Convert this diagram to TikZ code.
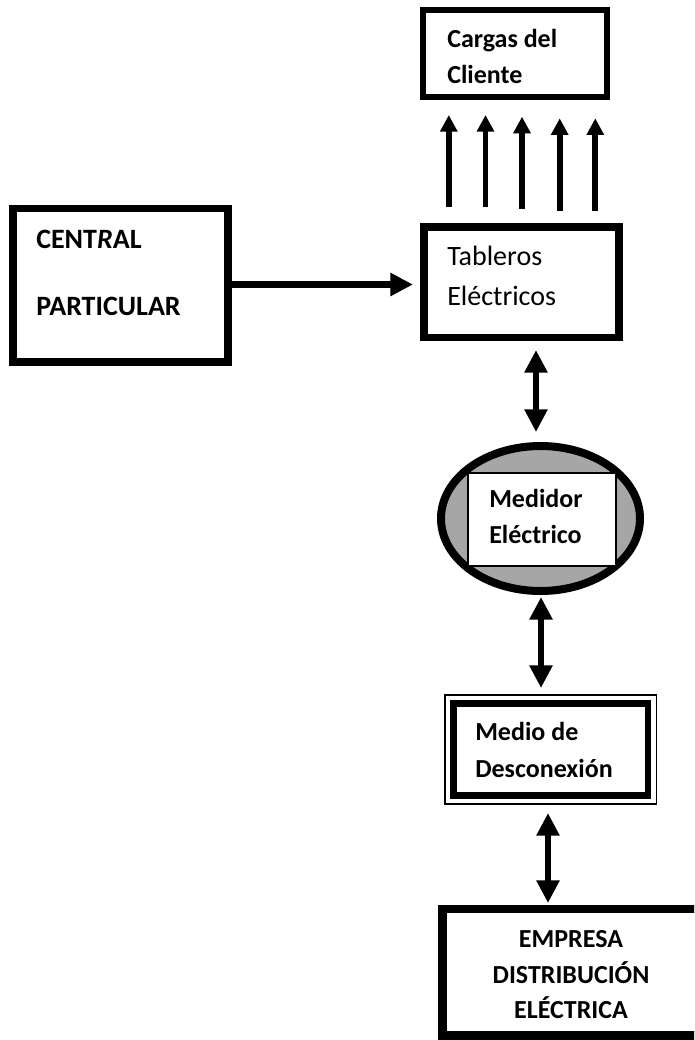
\documentclass[tikz,border=0pt]{standalone}
\usepackage{fontspec}
\setmainfont{Carlito}
\usetikzlibrary{arrows.meta,shapes.geometric}
\definecolor{medgray}{RGB}{166,166,166}
\begin{document}
\begin{tikzpicture}[x=0.75pt,y=-0.75pt,
  box/.style={draw=black,inner sep=0pt,outer sep=0pt,fill=white},
  lblb/.style={anchor=base west,inner sep=0pt,font=\bfseries\fontsize{19.5}{23}\selectfont},
  lblbig/.style={anchor=base west,inner sep=0pt,font=\bfseries\fontsize{21}{25}\selectfont},
  lblr/.style={anchor=base west,inner sep=0pt,font=\fontsize{21}{25}\selectfont},
  lblc/.style={anchor=base,inner sep=0pt,font=\bfseries\fontsize{19.5}{23}\selectfont},
  uparr/.style={line width=4.3pt,-{Triangle[width=12.5pt,length=12.5pt]}},
  rarr/.style={line width=4.9pt,-{Triangle[width=16.5pt,length=17pt]}},
  dblarr/.style={line width=4.9pt,{Triangle[width=16.5pt,length=17pt]}-{Triangle[width=16.5pt,length=17pt]}}]
\useasboundingbox (0,0) rectangle (694,1040);
\clip (0,0) rectangle (694,1040);
\fill[white] (0,0) rectangle (694,1040);

% boxes
\node[box,line width=4.9pt,minimum width=138pt,minimum height=65.25pt] (cargas) at (515,53.5) {};
\node[box,line width=5.6pt,minimum width=146.25pt,minimum height=82.9pt] (tab) at (521.5,282.25) {};
\node[box,line width=5.6pt,minimum width=161.25pt,minimum height=115.1pt] (cen) at (120.5,285.25) {};
\node[ellipse,draw=black,fill=medgray,line width=6pt,inner sep=0pt,minimum width=149.25pt,minimum height=108.75pt] (ell) at (540.5,518.5) {};
\node[box,line width=1.1pt,minimum width=111pt,minimum height=69.75pt] (med) at (542,519.5) {};
\node[box,line width=1pt,minimum width=158.6pt,minimum height=81.75pt] (desout) at (550.75,749.5) {};
\node[box,line width=4.9pt,minimum width=146pt,minimum height=69pt] (des) at (550.75,749.5) {};
\node[box,line width=6.4pt,minimum width=193.1pt,minimum height=94.9pt] (emp) at (571.25,972.25) {};

% texts
\node[lblb] (t1) at (447,47) {Cargas del};
\node[lblb] (t2) at (447,83) {Cliente};
\node[lblr] (t3) at (447,265) {Tableros};
\node[lblr] (t4) at (447,305) {Eléctricos};
\node[lblbig] (t5) at (36,248) {CENT\textit{R}AL};
\node[lblbig] (t6) at (36,315) {PARTICULAR};
\node[lblb] (t7) at (489,507) {Medidor};
\node[lblb] (t8) at (489,543) {Eléctrico};
\node[lblb] (t9) at (475,740) {Medio de};
\node[lblb] (t10) at (475,777) {Desconexión};
\node[lblc] (t11) at (571,947) {EMPRESA};
\node[lblc] (t12) at (571,983) {DISTRIBUCIÓN};
\node[lblc] (t13) at (571,1018) {ELÉCTRICA};

% arrow end points
\coordinate (u1a) at (448.8,207.3); \coordinate (u1b) at (448.8,115);
\coordinate (u2a) at (485.5,207.3); \coordinate (u2b) at (485.5,115);
\coordinate (u3a) at (522,209);     \coordinate (u3b) at (522,116.7);
\coordinate (u4a) at (559.7,210.7); \coordinate (u4b) at (559.7,118.3);
\coordinate (u5a) at (595.3,210.7); \coordinate (u5b) at (595.3,118.3);
\coordinate (ha) at (232,284.5);    \coordinate (hb) at (413,284.5);
\coordinate (d1a) at (536,350);     \coordinate (d1b) at (536,432);
\coordinate (d2a) at (541,597);     \coordinate (d2b) at (541,688);
\coordinate (d3a) at (548,813);     \coordinate (d3b) at (548,903);

\draw[uparr] (u1a) -- (u1b);
\draw[uparr] (u2a) -- (u2b);
\draw[uparr] (u3a) -- (u3b);
\draw[uparr] (u4a) -- (u4b);
\draw[uparr] (u5a) -- (u5b);
\draw[rarr] (ha) -- (hb);
\draw[dblarr] (d1a) -- (d1b);
\draw[dblarr] (d2a) -- (d2b);
\draw[dblarr] (d3a) -- (d3b);
\end{tikzpicture}
\end{document}
